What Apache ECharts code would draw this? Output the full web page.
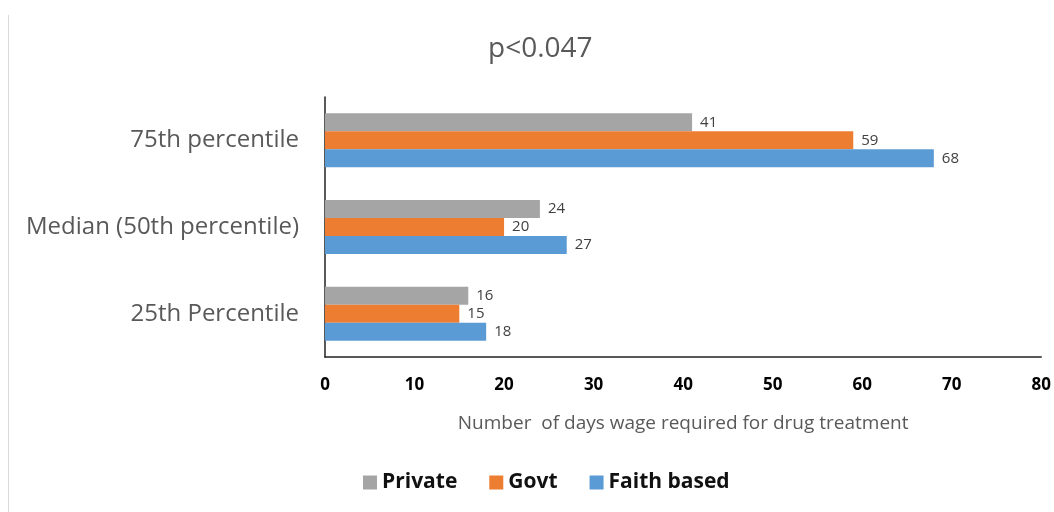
<!DOCTYPE html>
<html>
<head>
<meta charset="utf-8">
<script src="https://cdn.jsdelivr.net/npm/echarts@6/dist/echarts.min.js"></script>
<style>html,body{margin:0;padding:0;background:#fff}#c{width:1054px;height:512px}</style>
</head>
<body>
<div id="c"></div>
<script>
const categories = ['75th percentile', 'Median (50th percentile)', '25th Percentile'];
const seriesNames = ['Private', 'Govt', 'Faith based'];
const privateVals = [41, 24, 16];
const govtVals = [59, 20, 15];
const faithVals = [68, 27, 18];
const xTicks = [0, 10, 20, 30, 40, 50, 60, 70, 80];
const titleText = 'p<0.047';
const xAxisName = 'Number  of days wage required for drug treatment';

const colors = ['#A5A5A5', '#ED7D31', '#5B9BD5'];
const values = [privateVals, govtVals, faithVals];

const chart = echarts.init(document.getElementById('c'), null, {renderer: 'canvas'});
chart.setOption({
  animation: false,
  backgroundColor: '#fff',
  title: {
    text: titleText, left: 488, top: 35, padding: 0,
    textStyle: {fontFamily: 'Open Sans', fontWeight: 'normal', fontSize: 28, color: '#595959'}
  },
  legend: {
    data: seriesNames, bottom: 14, left: 358, itemWidth: 14, itemHeight: 14, itemGap: 32,
    icon: 'rect',
    textStyle: {fontFamily: 'Open Sans', fontWeight: 'bold', fontSize: 21, color: '#111'}
  },
  grid: {left: 325, right: 12, top: 97, bottom: 155, containLabel: false},
  xAxis: {
    type: 'value', min: xTicks[0], max: xTicks[xTicks.length - 1], interval: 10,
    name: xAxisName, nameLocation: 'middle', nameGap: 57,
    nameTextStyle: {fontFamily: 'Open Sans', fontSize: 19, color: '#595959'},
    axisLine: {show: true, lineStyle: {color: '#222', width: 1.5}},
    axisTick: {show: false},
    splitLine: {show: false},
    axisLabel: {margin: 20, fontFamily: 'Open Sans', fontWeight: 'bold', fontSize: 17, color: '#000'}
  },
  yAxis: {
    type: 'category', data: categories, inverse: true,
    axisLine: {show: true, lineStyle: {color: '#222', width: 1.5}},
    axisTick: {show: false},
    axisLabel: {margin: 26, fontFamily: 'Open Sans', fontSize: 24, color: '#595959'}
  },
  series: seriesNames.map((n, i) => ({
    name: n, type: 'bar', data: values[i], barWidth: 18, barGap: '0%',
    itemStyle: {color: colors[i]},
    label: {show: true, position: 'right', distance: 8, fontFamily: 'Open Sans', fontSize: 15, color: '#404040'}
  })),
  graphic: [{
    type: 'line', shape: {x1: 8.5, y1: 15, x2: 8.5, y2: 512},
    style: {stroke: '#d9d9d9', lineWidth: 1}
  }]
});
</script>
</body>
</html>
